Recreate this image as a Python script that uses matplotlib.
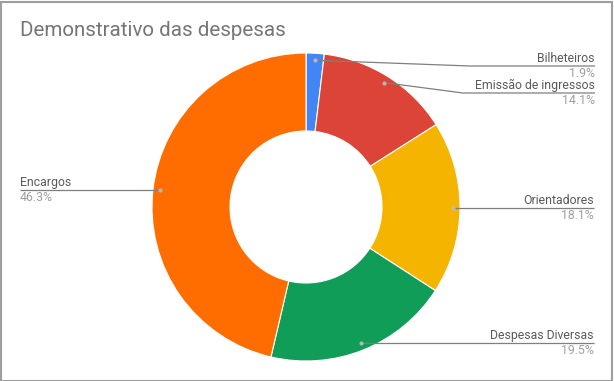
import matplotlib
matplotlib.use("Agg")
import matplotlib.pyplot as plt
import numpy as np
from matplotlib.patches import Rectangle

categories = ["Bilheteiros", "Emissão de ingressos", "Orientadores", "Despesas Diversas", "Encargos"]
values = [1.9, 14.1, 18.1, 19.5, 46.3]
pct_labels = ["1.9%", "14.1%", "18.1%", "19.5%", "46.3%"]
colors = ["#4285F4", "#DB4437", "#F4B400", "#0F9D58", "#FF6D01"]
title = "Demonstrativo das despesas"

W, H = 614, 381
fig = plt.figure(figsize=(W / 100, H / 100), dpi=100)
plt.rcParams['font.family'] = ['Roboto', 'DejaVu Sans']

def fx(px):
    return px / W
def fy(py):
    return 1 - py / H

cx, cy, R = 306, 207, 154
ax = fig.add_axes([fx(cx - R), fy(cy + R), 2 * R / W, 2 * R / H])
wedges, _ = ax.pie(values, colors=colors, startangle=90, counterclock=False,
                   radius=1, wedgeprops=dict(width=1 - 76 / 154, edgecolor="white", linewidth=0.8),
                   normalize=True)
ax.set_aspect("auto")
ax.set_xlim(-1, 1)
ax.set_ylim(-1, 1)
ax.axis("off")

ov = fig.add_axes([0, 0, 1, 1])
ov.set_xlim(0, W)
ov.set_ylim(H, 0)
ov.axis("off")

total = sum(values)
cum = 0
rdot = 147
layout = {
    "Bilheteiros": (470, 595, 66, "right"),
    "Emissão de ingressos": (463, 595, 93, "right"),
    "Orientadores": (None, 594, None, "right"),
    "Despesas Diversas": (None, 594, None, "right"),
    "Encargos": (None, 20, None, "left"),
}
for cat, v, pl in zip(categories, values, pct_labels):
    mid = (cum + v / 2) / total * 360
    cum += v
    ang = np.deg2rad(mid)
    dx = cx + rdot * np.sin(ang)
    dy = cy - rdot * np.cos(ang)
    bend, endx, ly, side = layout[cat]
    if ly is None:
        ly = dy
    xs = [dx]
    ys = [dy]
    if bend is not None:
        xs.append(bend)
        ys.append(ly)
    xs.append(endx)
    ys.append(ly)
    ov.plot(xs, ys, color="#7f7f7f", lw=0.9, solid_capstyle="butt")
    ov.plot([dx], [dy], "o", color="#bdbdbd", ms=3, mec="none", alpha=0.9)
    ha = "right" if side == "right" else "left"
    ov.text(endx, ly - 7.5, cat, ha=ha, va="center", fontsize=8.8, color="#595959")
    ov.text(endx, ly + 7.5, pl, ha=ha, va="center", fontsize=8.8, color="#9e9e9e")

ov.text(20, 30, title, ha="left", va="center", fontsize=14.8, color="#757575")

fig.patches.append(Rectangle((0.5 / W, 0.5 / H), 1 - 2.5 / W, 1 - 2.5 / H,
                             transform=fig.transFigure, fill=False,
                             edgecolor="#9e9e9e", lw=1.5))

fig.savefig("out.png", dpi=100, facecolor="white")
